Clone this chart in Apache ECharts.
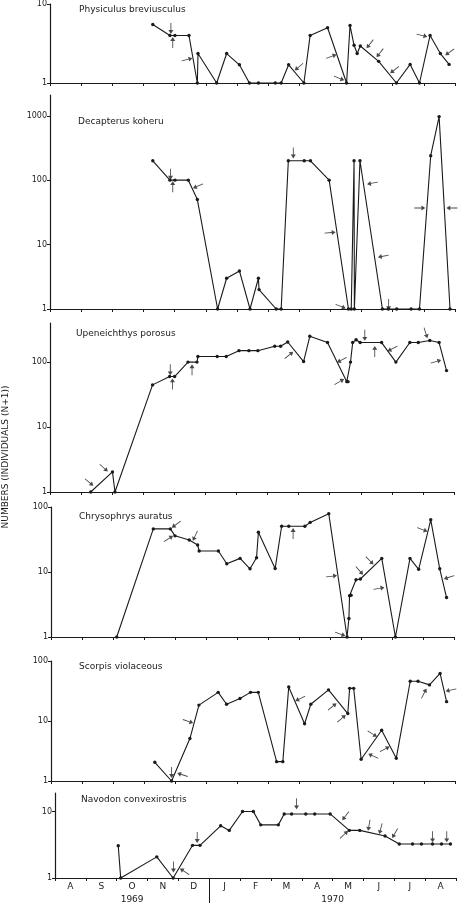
<!DOCTYPE html>
<html>
<head>
<meta charset="utf-8">
<title>Fish abundance 1969-1970</title>
<style>
html, body { margin: 0; padding: 0; background: #fff; }
#myChart { width: 462px; height: 908px; }
</style>
</head>
<body>
<div id="myChart"></div>
<script src="https://cdn.jsdelivr.net/npm/echarts@6.0.0/dist/echarts.min.js"></script>
<script>
// x = months since start of August 1969
const months = ['A', 'S', 'O', 'N', 'D', 'J', 'F', 'M', 'A', 'M', 'J', 'J', 'A']
const years = ['1969', '1970']
const yTitle = 'NUMBERS (INDIVIDUALS (N+1))'

// [x, N+1]
const physiculus = [[3.30, 5.5], [3.85, 4.0], [4.01, 4.0], [4.46, 4.0], [4.73, 1], [4.75, 2.36], [5.35, 1], [5.67, 2.36], [6.08, 1.7], [6.40, 1], [6.69, 1], [7.23, 1], [7.42, 1], [7.66, 1.7], [8.15, 1], [8.35, 4.0], [8.91, 5.0], [9.52, 1], [9.63, 5.35], [9.76, 3.0], [9.86, 2.36], [9.96, 2.94], [10.55, 1.88], [11.12, 1], [11.56, 1.72], [11.86, 1], [12.20, 4.0], [12.53, 2.36], [12.81, 1.72]]
const decapterus = [[3.30, 200], [3.85, 100], [4.01, 100], [4.44, 100], [4.73, 50], [5.38, 1], [5.67, 3.0], [6.08, 3.9], [6.42, 1], [6.69, 3.0], [6.71, 2.0], [7.26, 1], [7.42, 1], [7.65, 200], [8.16, 200], [8.36, 200], [8.96, 100], [9.58, 1], [9.67, 1], [9.76, 200], [9.77, 1], [9.95, 200], [10.67, 1], [10.86, 1], [11.13, 1], [11.59, 1], [11.86, 1], [12.22, 240], [12.49, 970], [12.84, 1]]
const upeneichthys = [[1.31, 1], [2.01, 2.04], [2.09, 1], [3.30, 44.6], [3.85, 60], [4.01, 60], [4.44, 100], [4.73, 100], [4.76, 122], [5.38, 122], [5.67, 122], [6.08, 150], [6.40, 150], [6.69, 150], [7.23, 175], [7.42, 175], [7.65, 204], [8.16, 102], [8.36, 250], [8.93, 200], [9.55, 50], [9.59, 50], [9.67, 100], [9.74, 200], [9.85, 221], [9.98, 200], [10.67, 200], [11.13, 100], [11.58, 200], [11.85, 200], [12.22, 215], [12.52, 200], [12.76, 74]]
const chrysophrys = [[2.12, 1], [3.30, 46], [3.85, 46], [4.00, 36], [4.46, 31], [4.73, 26], [4.78, 21], [5.40, 21], [5.67, 13.4], [6.10, 16.2], [6.42, 11.2], [6.63, 16.6], [6.69, 40.8], [7.23, 11.3], [7.44, 50.6], [7.67, 50.6], [8.19, 50.6], [8.36, 58], [8.96, 79], [9.55, 1], [9.61, 1.93], [9.63, 4.3], [9.68, 4.4], [9.84, 7.6], [9.98, 7.8], [10.67, 16.2], [11.11, 1], [11.58, 16.2], [11.86, 11], [12.25, 63.5], [12.54, 11.2], [12.76, 4.05]]
const scorpis = [[3.34, 2.05], [3.88, 1], [4.47, 5.1], [4.76, 18.4], [5.38, 30], [5.65, 19], [6.08, 23.7], [6.42, 30], [6.67, 30], [7.26, 2.1], [7.46, 2.1], [7.65, 37], [8.16, 9.0], [8.36, 19], [8.93, 33], [9.55, 13.3], [9.61, 35], [9.74, 35], [9.98, 2.3], [10.64, 7.0], [11.11, 2.4], [11.56, 46], [11.81, 46], [12.18, 40], [12.52, 62], [12.73, 21]]
const navodon = [[2.05, 3.05], [2.13, 1], [3.30, 2.08], [3.83, 1], [4.46, 3.1], [4.70, 3.1], [5.37, 6.1], [5.65, 5.2], [6.08, 10], [6.43, 10], [6.67, 6.3], [7.24, 6.3], [7.43, 9.2], [7.67, 9.2], [8.13, 9.2], [8.42, 9.2], [8.92, 9.2], [9.54, 5.2], [9.88, 5.2], [10.70, 4.28], [11.16, 3.24], [11.59, 3.24], [11.88, 3.24], [12.24, 3.24], [12.53, 3.24], [12.82, 3.24]]

// arrows: [x, N+1 at arrow middle, direction in degrees]
const physArrows = [[3.88, 4.9, -90], [3.94, 3.25, 90], [4.40, 1.98, 14], [7.99, 1.6, -139], [9.03, 2.17, 20], [9.28, 1.15, -22], [10.27, 3.12, -128], [10.59, 2.4, -128], [11.06, 1.47, -142], [11.94, 4.0, -13], [12.83, 2.46, -145]]
const decapArrows = [[3.87, 124, -90], [3.94, 79, 90], [4.75, 81, -157], [7.81, 265, -90], [8.99, 15.3, 5], [9.33, 1.1, -22], [10.35, 90, -169], [10.70, 6.6, -169], [10.87, 1.17, -90], [11.87, 37, 0], [12.90, 37, 180]]
const upenArrows = [[1.26, 1.41, -40], [1.73, 2.35, -42], [3.87, 76, -90], [3.94, 46, 90], [4.57, 76, 90], [7.69, 128, 39], [9.39, 108, -151], [9.31, 49.7, 30], [10.13, 258, -90], [10.45, 146, 90], [11.02, 161, -153], [12.09, 281, -72], [12.42, 102, 17]]
const chrysArrows = [[4.04, 54, -144], [3.79, 32.5, 33], [4.65, 36, -115], [7.81, 39, 90], [9.05, 8.6, 7], [9.33, 1.11, -20], [9.95, 10.5, -49], [10.28, 15, -46], [10.58, 5.6, 10], [11.98, 45, -20], [12.84, 8.3, -162]]
const scorpArrows = [[3.88, 1.39, -90], [4.23, 1.27, 162], [4.41, 9.9, -19], [8.02, 23.7, -153], [9.05, 17.3, 39], [9.35, 11, 40], [10.34, 6.1, -32], [10.37, 2.6, 155], [10.74, 3.4, 28], [12.0, 28.8, 63], [12.87, 32.8, -167]]
const navodArrows = [[3.84, 1.47, -90], [4.20, 1.25, 147], [4.61, 4.08, -90], [7.83, 13.1, -90], [9.42, 8.6, -127], [9.37, 4.5, 43], [10.18, 6.2, -100], [10.56, 5.5, -105], [11.02, 4.7, -120], [12.24, 4.17, -90], [12.70, 4.17, -90]]

const ink = '#1a1a1a'
const font = 'DejaVu Sans'
const arrowPath = 'path://M0,-0.6 L13,-0.6 L13,-3.5 L20,0 L13,3.5 L13,0.6 L0,0.6 Z'

const panels = [
  { name: 'Physiculus breviusculus', data: physiculus, arrows: physArrows, max: 10, top: 2, height: 81, left: 50, right: 7, nameX: 79, nameY: 5 },
  { name: 'Decapterus koheru', data: decapterus, arrows: decapArrows, max: 2100, top: 95, height: 214, left: 50, right: 7, nameX: 78, nameY: 117 },
  { name: 'Upeneichthys porosus', data: upeneichthys, arrows: upenArrows, max: 400, top: 323, height: 169, left: 50, right: 8, nameX: 76, nameY: 329 },
  { name: 'Chrysophrys auratus', data: chrysophrys, arrows: chrysArrows, max: 100, top: 507, height: 130, left: 51, right: 8, nameX: 79, nameY: 512 },
  { name: 'Scorpis violaceous', data: scorpis, arrows: scorpArrows, max: 100, top: 661, height: 120, left: 51, right: 7, nameX: 79, nameY: 662 },
  { name: 'Navodon convexirostris', data: navodon, arrows: navodArrows, max: 19, top: 793, height: 85, left: 55, right: 6, nameX: 81, nameY: 795 }
]

let grid = []
let xAxis = []
let yAxis = []
let series = []
let title = []

panels.forEach(function (p, i) {
  grid.push({ left: p.left, right: p.right, top: p.top, height: p.height })
  title.push({
    text: p.name,
    left: p.nameX,
    top: p.nameY,
    padding: 0,
    textStyle: { fontFamily: font, fontSize: 9, fontWeight: 'normal', color: ink }
  })
  xAxis.push({
    type: 'value',
    gridIndex: i,
    min: 0,
    max: 13,
    interval: 1,
    position: 'bottom',
    axisLine: { onZero: false, lineStyle: { color: ink, width: 1.2 } },
    axisTick: { show: true, length: 3, lineStyle: { color: ink } },
    axisLabel: { show: false },
    splitLine: { show: false }
  })
  let powerOfTen = Number.isInteger(Math.log10(p.max))
  yAxis.push({
    type: 'log',
    logBase: 10,
    gridIndex: i,
    min: 1,
    max: p.max,
    axisLine: { show: true, onZero: false, lineStyle: { color: ink, width: 1.2 } },
    axisTick: { show: true, length: 3, lineStyle: { color: ink } },
    axisLabel: {
      fontFamily: font,
      fontSize: 8,
      color: ink,
      margin: 3,
      showMaxLabel: powerOfTen,
      formatter: function (v) { return String(Math.round(v)) }
    },
    splitLine: { show: false }
  })
  series.push({
    type: 'line',
    xAxisIndex: i,
    yAxisIndex: i,
    data: p.data,
    symbol: 'circle',
    symbolSize: 3.4,
    showAllSymbol: true,
    lineStyle: { color: ink, width: 1.1 },
    itemStyle: { color: ink },
    animation: false,
    silent: true
  })
  series.push({
    type: 'scatter',
    xAxisIndex: i,
    yAxisIndex: i,
    data: p.arrows.map(function (a) {
      return { value: [a[0], a[1]], symbolRotate: a[2] }
    }),
    symbol: arrowPath,
    symbolSize: [11, 5],
    itemStyle: { color: ink },
    animation: false,
    silent: true
  })
})

// month letters under the last panel
xAxis.push({
  type: 'category',
  gridIndex: 5,
  position: 'bottom',
  data: months,
  boundaryGap: true,
  axisLine: { show: false, onZero: false },
  axisTick: { show: false },
  axisLabel: { interval: 0, fontFamily: font, fontSize: 9, color: ink, margin: 4 }
})
// years and the Dec/Jan divider
xAxis.push({
  type: 'value',
  gridIndex: 5,
  position: 'bottom',
  min: 0,
  max: 13,
  axisLine: { show: false, onZero: false },
  axisTick: { show: true, customValues: [5], length: 25, lineStyle: { color: ink } },
  axisLabel: {
    customValues: [2.5, 9],
    formatter: function (v) { return v < 5 ? years[0] : years[1] },
    fontFamily: font,
    fontSize: 9,
    color: ink,
    margin: 17
  },
  splitLine: { show: false }
})

let myChart = echarts.init(document.getElementById('myChart'))
myChart.setOption({
  backgroundColor: '#fff',
  animation: false,
  title: title,
  grid: grid,
  xAxis: xAxis,
  yAxis: yAxis,
  series: series,
  graphic: [{
    type: 'text',
    x: 6,
    y: 457,
    rotation: Math.PI / 2,
    style: {
      text: yTitle,
      fontFamily: font,
      fontSize: 9,
      fill: ink,
      align: 'center',
      verticalAlign: 'middle'
    }
  }]
})
</script>
</body>
</html>
